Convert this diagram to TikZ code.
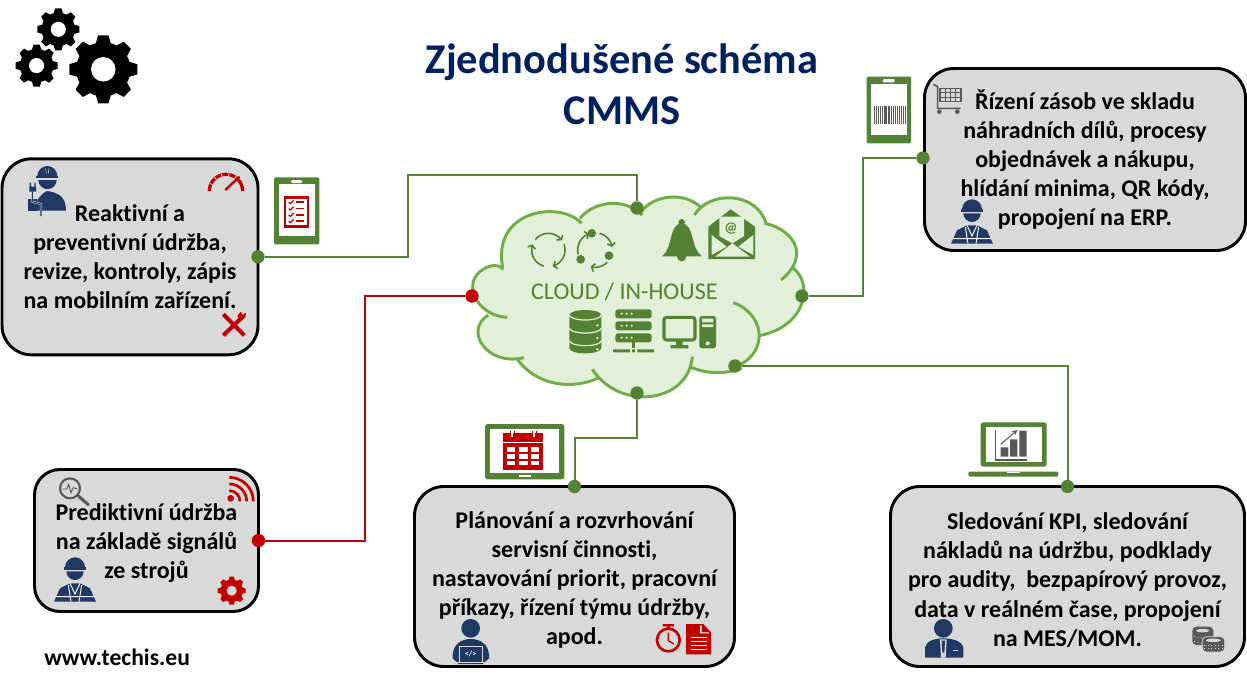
\documentclass[tikz,border=0pt]{standalone}
\usepackage{fontspec}
\setmainfont{Carlito}[Ligatures=NoCommon]
\usetikzlibrary{arrows.meta}

\definecolor{leaf}{HTML}{548235}
\definecolor{cloudline}{HTML}{70AD47}
\definecolor{cloudfill}{HTML}{E2F0D9}
\definecolor{navy}{HTML}{1F3864}
\definecolor{signal}{HTML}{C00000}
\definecolor{slate}{HTML}{595959}
\definecolor{panel}{HTML}{D9D9D9}
\definecolor{heading}{HTML}{002060}

\newcommand{\cloudlobes}{
	(142,412) .. controls (60,408) and (15,330) .. (50,285) .. controls (70,260) and (110,245) .. (130,268)
	(128,262) .. controls (95,90) and (300,60) .. (365,130)
	(360,115) .. controls (400,65) and (490,50) .. (547,105)
	(540,100) .. controls (580,40) and (680,35) .. (725,85)
	(703,105) .. controls (750,30) and (890,35) .. (918,130)
	(915,130) .. controls (1005,150) and (1050,230) .. (963,300)
	(1000,265) .. controls (1060,310) and (1040,440) .. (897,467)
	(820,368) .. controls (910,400) and (930,510) .. (835,557)
	(845,565) .. controls (790,585) and (730,580) .. (690,560)
	(697,530) .. controls (685,670) and (480,695) .. (397,568)
	(417,593) .. controls (340,630) and (230,620) .. (170,535)
	(192,533) .. controls (80,560) and (10,450) .. (85,405)
}

\tikzset{
	zm/.style={shift={#1},x=.25pt,y=-.25pt},
	panelbox/.style={draw=black,fill=panel,line width=2.2pt,rounded corners=#1,inner sep=0pt,outer sep=0pt,
		align=center,font=\fontsize{18}{21.8}\selectfont\bfseries},
	greendot/.style={circle,fill=leaf,inner sep=0pt,minimum size=10pt},
	reddot/.style={circle,fill=signal,inner sep=0pt,minimum size=10pt},
	greenline/.style={draw=leaf,line width=1.5pt},
	redline/.style={draw=signal,line width=1.5pt},
	cyclearrow/.style={leaf,line width=1.2pt,-{Straight Barb[length=2.2pt,width=6pt]}},
	pics/gearicon/.style 2 args={code={
		\fill[#1] (0,0) circle(.8);
		\foreach \a in {0,45,...,315}
			\fill[#1,rotate=\a] (-.24,.7) -- (-.15,1) -- (.15,1) -- (.24,.7) -- cycle;
		\fill[#2] (0,0) circle(.36);
	}},
	pics/workericon/.style={code={
		\fill[navy] (135,442) arc[start angle=180,end angle=360,radius=30] -- cycle;
		\fill[navy] (132,442) rectangle (198,449);
		\fill[navy] (139,454) -- (191,454) arc[start angle=0,end angle=180,radius=26] -- cycle;
		\fill[navy] (102,545) -- (120,505) -- (150,490) -- (180,490) -- (210,505) -- (228,545) -- cycle;
		\draw[white,line width=.7pt] (145,495) -- (153,545) (185,495) -- (177,545) (108,530) -- (222,530);
		\draw[white,line width=.7pt] (150,490) -- (165,522) -- (180,490);
	}}
}

\begin{document}
\begin{tikzpicture}[x=.75pt,y=-.75pt]
	\useasboundingbox (0,0) rectangle (1247,686);

	\node[font=\fontsize{31.8}{38}\selectfont\bfseries,text=heading,align=center] (title) at (622,84) {Zjednodušené schéma\\CMMS};
	\node[font=\fontsize{17.7}{18}\selectfont\bfseries,anchor=west,inner sep=0pt] (web) at (44,657) {www.techis.eu};

	\pic[shift={(58.3,29.3)},scale=21] {gearicon={black}{white}};
	\pic[shift={(36.6,65.6)},scale=21] {gearicon={black}{white}};
	\pic[shift={(103.3,69.3)},scale=34] {gearicon={black}{white}};

	% cloud lobes
	\begin{scope}[zm={(460,180)}]
		\fill[cloudfill] (85,405) -- (125,255) -- (365,113) -- (545,100) -- (715,85) -- (915,130) -- (1000,268)
			-- (897,467) -- (836,566) -- (692,568) -- (405,592) -- (178,542) -- cycle \cloudlobes;
		\draw[cloudline,line width=2.2pt] \cloudlobes;

		% cycles
		\foreach \a/\b in {219/325,340/435,105/200}
			\draw[cyclearrow] plot[domain=\a:\b,samples=12,smooth] ({265+50*cos(\x)},{210+50*sin(\x)});
		\foreach \a/\b in {-75/-10,45/105,165/250}
			\draw[cyclearrow] plot[domain=\a:\b,samples=12,smooth] ({405+52*cos(\x)},{210+52*sin(\x)});
		\fill[leaf] (395,160) circle(13) (447,227) circle(13) (362,238) circle(13);

		% bell
		\fill[leaf] (665,127) circle(10) (665,230) circle(14);
		\fill[leaf] (665,130) .. controls (625,132) and (640,205) .. (606,229) -- (726,229) .. controls (690,205) and (705,132) .. (665,130) -- cycle;

		% envelope
		\fill[leaf] (745,140) -- (812,88) -- (885,140) -- (885,237) -- (745,237) -- cycle;
		\fill[cloudfill] (778,110) -- (852,110) -- (852,168) -- (817,190) -- (778,168) -- cycle;
		\fill[cloudfill] (755,165) -- (800,200) -- (755,225) -- cycle;
		\fill[cloudfill] (880,165) -- (835,200) -- (880,225) -- cycle;
		\fill[cloudfill] (765,230) -- (817,190) -- (870,230) -- cycle;
		\node[font=\fontsize{11}{11}\selectfont\bfseries,text=leaf,inner sep=0pt] (mailat) at (813,147) {@};

		\node[font=\fontsize{18}{18}\selectfont,text=leaf] (cloudlabel) at (493,335) {CLOUD / IN-HOUSE};

		% database
		\fill[leaf] (328,405) arc[start angle=180,end angle=360,x radius=48,y radius=15] -- (424,505)
			arc[start angle=0,end angle=180,x radius=48,y radius=15] -- cycle;
		\foreach \y in {405,444,482}
			\draw[cloudfill,line width=.9pt] (328,\y) arc[start angle=180,end angle=0,x radius=48,y radius=15];
		\fill[cloudfill] (412,436) circle(4) (412,474) circle(4) (412,508) circle(4);

		% server rack
		\foreach \y in {388,424,460} {
			\fill[leaf,rounded corners=2pt] (466,\y) rectangle (575,\y+27);
			\fill[cloudfill] (485,\y+13) circle(3.5) (500,\y+13) circle(3.5) (515,\y+13) circle(3.5);
		}
		\fill[leaf] (516,487) rectangle (525,505);
		\fill[leaf] (459,508) rectangle (510,517) (532,508) rectangle (582,517) (516,508) rectangle (525,517);

		% desktop
		\filldraw[fill=cloudfill,draw=leaf,line width=2.3pt,rounded corners=2pt] (612,412) rectangle (705,480);
		\fill[leaf] (648,482) rectangle (668,495) (632,495) rectangle (685,505);
		\fill[leaf,rounded corners=2pt] (718,408) rectangle (768,505);
		\fill[cloudfill] (726,416) rectangle (760,427) (726,433) rectangle (760,441);
		\fill[cloudfill] (743,490) circle(6);
	\end{scope}

	% panels
	\node[panelbox=22pt,minimum width=192pt,minimum height=147pt] (reactive) at (130,256.8)
		{Reaktivní a\\preventivní údržba,\\revize, kontroly, zápis\\na mobilním zařízení.};
	\node[panelbox=19pt,minimum width=168pt,minimum height=106.5pt] (predictive) at (146.5,540.5)
		{\rule{0pt}{16.2pt}Prediktivní údržba\\na základě signálů\\ze strojů};
	\node[panelbox=22pt,minimum width=240pt,minimum height=135pt] (planning) at (574.5,576.5)
		{\rule{0pt}{18pt}Plánování a rozvrhování\\servisní činnosti,\\nastavování priorit, pracovní\\příkazy, řízení týmu údržby,\\apod.};
	\node[panelbox=22pt,minimum width=265.5pt,minimum height=135pt] (kpi) at (1067.5,576.5)
		{\rule{0pt}{18pt}Sledování KPI, sledování\\nákladů na údržbu, podklady\\pro audity,\ \ bezpapírový provoz,\\data v reálném čase, propojení\\na MES/MOM.};
	\node[panelbox=22pt,minimum width=240.75pt,minimum height=136.5pt] (stock) at (1085,159.5)
		{Řízení zásob ve skladu\\náhradních dílů, procesy\\objednávek a nákupu,\\hlídání minima, QR kódy,\\propojení na ERP.};

	% connector ends
	\node[greendot] (reactivedot) at (reactive.east) {};
	\node[reddot] (predictivedot) at (predictive.east) {};
	\node[greendot] (planningdot) at (planning.north) {};
	\node[greendot] (kpidot) at (kpi.north) {};
	\node[greendot] (stockdot) at (923,158) {};
	\node[greendot] (cloudtop) at (637,208) {};
	\node[reddot] (cloudleft) at (472,296) {};
	\node[greendot] (cloudright) at (802,296) {};
	\node[greendot] (cloudlow) at (735,366) {};
	\node[greendot] (cloudbottom) at (637,393) {};

	\coordinate (topbend) at (408,175);
	\coordinate (leftbend) at (365,296);
	\coordinate (rightbend) at (863,158);
	\coordinate (midbend) at (637,438);

	\draw[greenline] (reactivedot) -| (topbend) -| (cloudtop);
	\draw[redline] (predictivedot) -| (leftbend) -- (cloudleft);
	\draw[greenline] (cloudright) -| (rightbend) -- (stockdot);
	\draw[greenline] (cloudlow) -| (kpidot);
	\draw[greenline] (cloudbottom) -- (midbend) -| (planningdot);

	% left upper panel and its tablet
	\begin{scope}[zm={(0,0)}]
		\fill[navy] (112,528) arc[start angle=180,end angle=360,radius=30] -- cycle;
		\fill[navy] (108,528) rectangle (175,535);
		\draw[panel,line width=.4pt] (137,505) -- (139,520) (147,505) -- (145,520);
		\fill[navy] (115,540) -- (170,540) arc[start angle=0,end angle=180,radius=27.5] -- cycle;
		\fill[navy] (110,632) -- (112,600) .. controls (125,582) and (135,575) .. (142,573) .. controls (175,578) and (198,590) .. (198,632) -- cycle;
		\fill[navy] (85,632) rectangle (112,598);
		\fill[navy] (88,560) rectangle (108,575) (89,548) rectangle (93,560) (103,548) rectangle (107,560);
		\draw[panel,line width=1.6pt] (97,590) -- (97,605) -- (123,612) -- (123,632);
		\draw[navy,line width=.8pt] (97,575) -- (97,605) -- (123,612) -- (123,648);

		\draw[signal,line width=2.5pt] (628,573) arc[start angle=180,end angle=360,radius=50];
		\foreach \a in {205,230,255,280,305}
			\draw[panel,line width=.6pt] ([shift={(\a:44)}]678,573) -- ([shift={(\a:54)}]678,573);
		\draw[signal,line width=1.8pt] (676,570) -- (718,530);

		\draw[signal,line width=3pt] (670,943) -- (733,1006);
		\draw[signal,line width=3pt] (725,953) -- (670,1006);
		\fill[signal] (712,948) -- (722,935) -- (728,945) -- (738,938) -- (736,952) -- (722,964) -- cycle;

		\fill[leaf,rounded corners=1pt] (822,532) rectangle (958,733);
		\fill[white] (836,552) rectangle (945,708);
		\fill[white,rounded corners=1pt] (873,540) rectangle (907,549);
		\fill[signal] (852,588) rectangle (927,683);
		\fill[white] (859,596) rectangle (920,675);
		\foreach \y in {607,626,645,664} {
			\draw[signal,line width=.9pt] (866,\y) -- (871,\y+4) -- (881,\y-6);
			\fill[signal] (888,\y-3) rectangle (912,\y+2);
		}
	\end{scope}

	% stock panel and its tablet
	\begin{scope}[zm={(917,62)}]
		\pic {workericon};
	\end{scope}
	\begin{scope}[zm={(850,60)}]
		\fill[leaf,rounded corners=1pt] (50,50) rectangle (183,250);
		\fill[white] (63,72) rectangle (170,225);
		\fill[white,rounded corners=1pt] (98,57) rectangle (134,67);
		\foreach \x/\w in {72/3,78/2,83/4,90/2,95/3,101/2,106/4,113/2,118/3,124/2,129/4,136/2,141/3,147/2,152/4,159/3,164/1}
			\fill[slate] (\x,137) rectangle (\x+\w,192);

		\draw[slate,line width=1.2pt] (250,73) -- (263,80) -- (263,145) -- (332,145);
		\filldraw[fill=panel,draw=slate,line width=1pt] (270,85) rectangle (333,125);
		\foreach \x in {285,300,315} \draw[slate,line width=.7pt] (\x,85) -- (\x,125);
		\foreach \y in {98,112} \draw[slate,line width=.7pt] (270,\y) -- (333,\y);
		\fill[slate] (268,155) circle(7) (322,155) circle(7);
	\end{scope}

	% predictive panel
	\begin{scope}[zm={(20,420)}]
		\pic {workericon};
		\draw[slate,line width=1.6pt] (150,205) circle(30);
		\draw[slate,line width=.7pt] (128,207) -- (140,207) -- (146,193) -- (153,218) -- (160,203) -- (172,207);
		\draw[slate,line width=2.3pt,line cap=round] (175,228) -- (205,254);

		\fill[signal] (632,235) circle(10);
		\foreach \r in {32,52,72}
			\draw[signal,line width=2pt] ([shift={(-90:\r)}]628,244) arc[start angle=-90,end angle=0,radius=\r];
	\end{scope}
	\pic[shift={(231.7,590.7)},scale=14] {gearicon={signal}{panel}};

	% planning panel and its tablet
	\begin{scope}[zm={(410,420)}]
		\fill[leaf,rounded corners=2pt] (225,12) rectangle (463,178);
		\fill[white] (240,28) rectangle (447,160);
		\fill[white] (328,166) rectangle (362,172);
		\fill[signal] (278,40) rectangle (400,150);
		\fill[white] (278,66) rectangle (400,69);
		\draw[white,line width=.8pt] (306,32) -- (306,50) (372,32) -- (372,50);
		\draw[signal,line width=.4pt] (300,32) -- (300,50) (312,32) -- (312,50) (366,32) -- (366,50) (378,32) -- (378,50);
		\foreach \y in {82,103,122}
			\foreach \x in {290,327,362}
				\fill[white] (\x,\y) rectangle (\x+26,\y+14);

		\fill[navy] (182,625) circle(28);
		\fill[navy] (128,705) .. controls (130,672) and (155,657) .. (182,657) .. controls (210,657) and (235,672) .. (237,705) -- (237,715) -- (218,732) -- (146,732) -- (128,715) -- cycle;
		\draw[panel,line width=.5pt] (147,725) -- (147,680) -- (218,680) -- (218,725);
		\fill[panel] (132,725) rectangle (232,727);
		\node[font=\fontsize{6}{6}\selectfont\bfseries,text=white,inner sep=0pt] (codemark) at (182,703) {</>};

		\draw[signal,line width=2pt] (775,660) circle(34);
		\fill[signal] (758,612) rectangle (792,619) (770,619) rectangle (780,628);
		\draw[signal,line width=1.1pt] (775,638) -- (775,662) -- (792,672);

		\fill[signal] (828,612) -- (880,612) -- (903,637) -- (903,703) -- (828,703) -- cycle;
		\fill[white] (870,617) -- (870,640) -- (897,640) -- (897,637) -- (875,637) -- (875,617) -- cycle;
		\foreach \y in {650,662,674,686}
			\fill[white] (842,\y) rectangle (890,\y+5);
	\end{scope}

	% kpi panel and its laptop
	\begin{scope}[zm={(880,410)}]
		\fill[leaf,rounded corners=2pt] (302,37) rectangle (500,170);
		\fill[white] (317,50) rectangle (485,157);
		\fill[leaf,rounded corners=1pt] (265,185) rectangle (535,200);
		\fill[white] (380,185) rectangle (420,190);
		\draw[slate,line width=.8pt] (347,60) -- (347,150) -- (440,150);
		\fill[slate] (362,112) rectangle (385,140) (390,88) rectangle (412,140) (418,62) rectangle (440,140);
		\draw[slate,line width=.8pt,-{Stealth[length=4pt,width=4pt]}] (362,103) -- (412,60);

		\fill[navy] (190,655) circle(28);
		\fill[navy] (135,743) -- (135,712) .. controls (140,692) and (165,685) .. (190,685) .. controls (215,685) and (245,692) .. (250,712) -- (250,743) -- cycle;
		\fill[panel] (180,688) -- (200,688) -- (197,743) -- (183,743) -- cycle;
		\fill[navy] (185,692) -- (195,692) -- (193,728) -- (187,728) -- cycle;
		\fill[panel] (218,720) rectangle (235,724);

		% coins
		\fill[slate,rounded corners=3pt] (937,650) rectangle (1000,705);
		\fill[panel] (968,662) ellipse(20 and 5);
		\draw[panel,line width=.7pt,dotted] (942,680) -- (968,685) (942,694) -- (968,700);
		\filldraw[fill=slate,draw=panel,line width=.5pt,rounded corners=3pt] (967,680) rectangle (1034,726);
		\fill[panel] (1000,691) ellipse(22 and 5);
		\draw[panel,line width=.7pt,dotted] (972,705) -- (1030,705) (972,716) -- (1030,716);
	\end{scope}
\end{tikzpicture}
\end{document}
